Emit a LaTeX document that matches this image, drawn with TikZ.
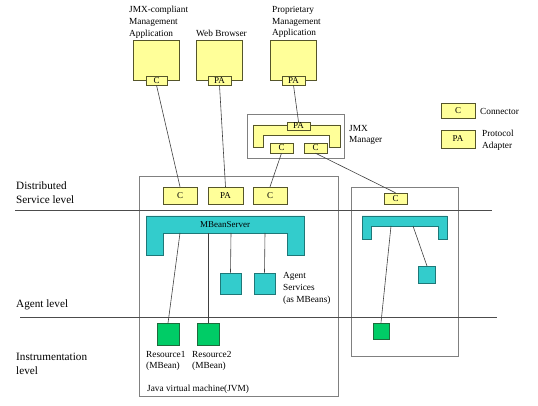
\documentclass[tikz,border=0pt]{standalone}
\usepackage{fontspec}
\setmainfont{Liberation Serif}
\definecolor{portfill}{HTML}{FFFF99}
\definecolor{portline}{HTML}{55552A}
\definecolor{srvfill}{HTML}{33CCCC}
\definecolor{srvline}{HTML}{1E7878}
\definecolor{resfill}{HTML}{00CC66}
\definecolor{resline}{HTML}{1E6B3C}
\definecolor{boxline}{HTML}{808080}
\begin{document}
\begin{tikzpicture}[x=1pt,y=-1pt,
	port/.style={draw=portline,fill=portfill,inner sep=0pt,font=\fontsize{9}{10}\selectfont},
	app/.style={draw=portline,fill=portfill,line width=0.9pt},
	frame/.style={draw=boxline,line width=0.9pt},
	srv/.style={draw=srvline,fill=srvfill,line width=0.8pt},
	res/.style={draw=resline,fill=resfill,line width=0.8pt,minimum size=22pt,inner sep=0pt},
	svc/.style={draw=srvline,fill=srvfill,line width=0.8pt,minimum size=21pt,inner sep=0pt},
	link/.style={draw=black!75,line width=0.6pt},
	lbl/.style={anchor=west,align=left,inner sep=0pt,font=\fontsize{9.3}{11.8}\selectfont},
	lvl/.style={anchor=west,align=left,inner sep=0pt,font=\fontsize{11.2}{14}\selectfont}]
		\useasboundingbox (0,0) rectangle (538,406);
		% outer boxes
		\draw[frame] (139,176) rectangle (338,396);
		\draw[frame] (351,187) rectangle (458,356);
		\draw[frame] (247,114) rectangle (344,158);
		% management applications
		\draw[app] (133,40) rectangle (179,80);
		\draw[app] (196,40) rectangle (242,80);
		\draw[app] (270,40) rectangle (316,80);
		\node[port,minimum width=21pt,minimum height=9pt] (appc) at (156.5,80.5) {C};
		\node[port,minimum width=23pt,minimum height=9pt] (webpa) at (219.5,80.5) {PA};
		\node[port,minimum width=23pt,minimum height=9pt] (proppa) at (293.5,80.5) {PA};
		\node[lbl] at (129,22) {JMX-compliant\\Management\\Application};
		\node[lbl] at (196,33) {Web Browser};
		\node[lbl] at (272,22) {Proprietary\\Management\\Application};
		% JMX manager
		\draw[app,line width=0.8pt] (253,125)--(340,125)--(340,147)--(329,147)--(329,135)--(263,135)--(263,147)--(253,147)--cycle;
		\node[port,minimum width=23pt,minimum height=8pt] (mgrpa) at (298.5,126) {PA};
		\node[port,minimum width=23pt,minimum height=10pt] (mgrc1) at (281.5,148) {C};
		\node[port,minimum width=23pt,minimum height=10pt] (mgrc2) at (315.5,148) {C};
		\node[lbl] at (349,135) {JMX\\Manager};
		% legend
		\node[port,minimum width=34pt,minimum height=15pt] (legc) at (458,110.5) {C};
		\node[port,minimum width=34pt,minimum height=18pt] (legpa) at (458,139) {PA};
		\node[lbl] at (480,111) {Connector};
		\node[lbl] at (482,140) {Protocol\\Adapter};
		% distributed service level
		\node[port,minimum width=34pt,minimum height=17pt] (jvmc1) at (180,195.5) {C};
		\node[port,minimum width=35pt,minimum height=17pt] (jvmpa) at (225.5,195.5) {PA};
		\node[port,minimum width=34pt,minimum height=17pt] (jvmc2) at (270,195.5) {C};
		\node[port,minimum width=23pt,minimum height=11pt] (rightc) at (395.5,198.5) {C};
		% agent level
		\draw[srv] (146,216)--(304,216)--(304,255)--(287,255)--(287,233)--(163,233)--(163,255)--(146,255)--cycle;
		\node[inner sep=0pt,font=\fontsize{9}{10}\selectfont] (mbs) at (225,224.5) {MBeanServer};
		\draw[srv] (362,216)--(447,216)--(447,239)--(438,239)--(438,226)--(371,226)--(371,239)--(362,239)--cycle;
		\node[svc] (svc1) at (230.5,283.5) {};
		\node[svc] (svc2) at (264.5,283.5) {};
		\node[svc,minimum size=17pt] (rsvc) at (427,275) {};
		\node[lbl] at (283,288.5) {Agent\\Services\\(as MBeans)};
		% instrumentation level
		\node[res] (res1) at (168,334.5) {};
		\node[res] (res2) at (208,334.5) {};
		\node[res,minimum size=16pt] (rres) at (381,331) {};
		\node[lbl] at (146,361) {Resource1\\(MBean)};
		\node[lbl] at (192,361) {Resource2\\(MBean)};
		\node[lbl] at (147,389) {Java virtual machine(JVM)};
		% level lines and labels
		\draw[line width=0.8pt,black!70] (15,210)--(492,210);
		\draw[line width=0.8pt,black!70] (20,317)--(497,317);
		\node[lvl] at (16,193) {Distributed\\Service level};
		\node[lvl] at (16,305) {Agent level};
		\node[lvl] at (16,363.5) {Instrumentation\\level};
		% connections
		\coordinate (b1) at (180,233);
		\coordinate (b2) at (208,233);
		\coordinate (b3) at (231,233);
		\coordinate (b4) at (265,233);
		\coordinate (r1) at (391,226);
		\coordinate (r2) at (413,226);
		\draw[link] (appc.south)--(jvmc1.north);
		\draw[link] (webpa.south)--(jvmpa.north);
		\draw[link] (proppa.south)--(mgrpa.north);
		\draw[link] (mgrc1.south)--(jvmc2.north);
		\draw[link] (mgrc2.south)--(rightc.north);
		\draw[link] (b1)--(res1.north);
		\draw[link] (b2)--(res2.north);
		\draw[link] (b3)--(svc1.north);
		\draw[link] (b4)--(svc2.north);
		\draw[link] (r1)--(rres.north);
		\draw[link] (r2)--(rsvc.north);
	\end{tikzpicture}
\end{document}
